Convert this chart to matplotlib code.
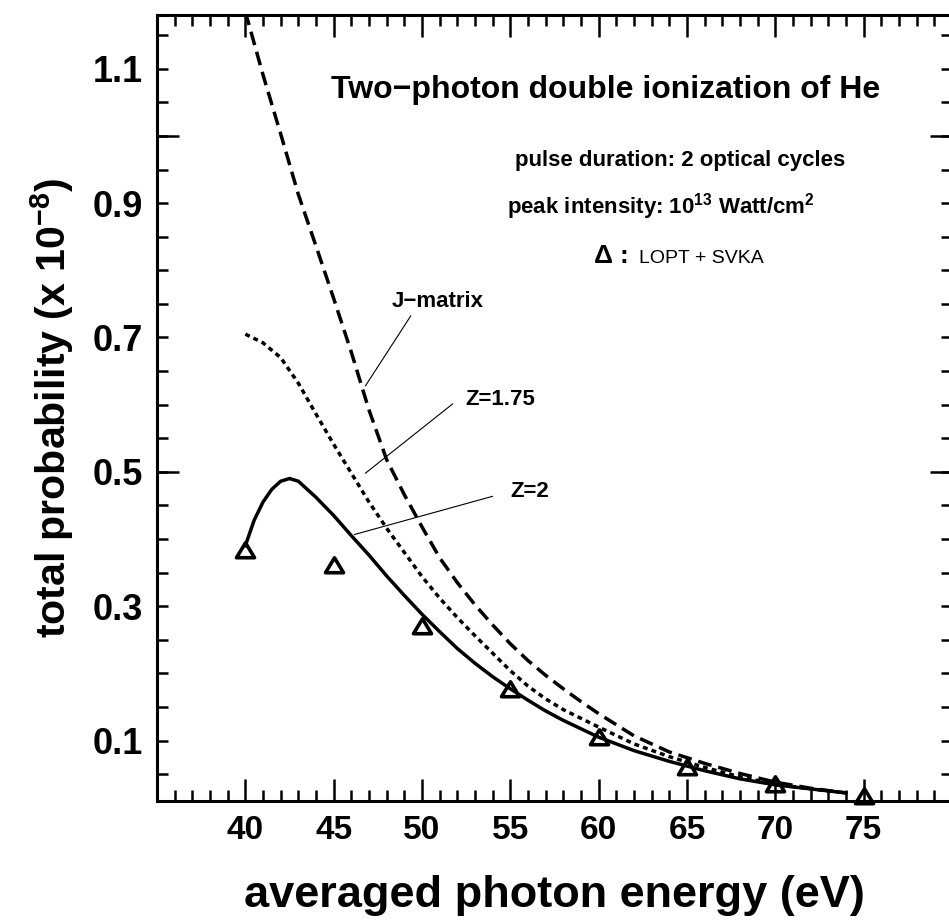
import numpy as np
import matplotlib
matplotlib.use('Agg')
import matplotlib.pyplot as plt
from matplotlib.path import Path
from matplotlib.ticker import FixedLocator, MultipleLocator, FuncFormatter

plt.rcParams['font.family'] = 'Liberation Sans'
plt.rcParams['font.weight'] = 'bold'
plt.rcParams['axes.labelweight'] = 'bold'
plt.rcParams['mathtext.default'] = 'regular'

# J-matrix result (dashed)
e_jm = [40, 41, 42, 43, 44, 45, 46, 47, 48, 49, 50, 51, 52, 53, 54, 55, 56, 57,
        58, 59, 60, 62, 64, 66, 68, 70, 72, 74]
p_jm = [1.185, 1.091, 1.003, 0.913, 0.836, 0.758, 0.678, 0.592, 0.518, 0.466,
        0.418, 0.372, 0.335, 0.302, 0.272, 0.244, 0.219, 0.197, 0.177, 0.158,
        0.140, 0.107, 0.083, 0.066, 0.051, 0.038, 0.029, 0.022]

# Z=1.75 (dotted)
e_z175 = [40, 41, 42, 43, 44, 45, 46, 47, 48, 49, 50, 51, 52, 53, 54, 55, 56,
          57, 58, 60, 62, 64, 66, 68, 70, 72, 74]
p_z175 = [0.705, 0.692, 0.670, 0.632, 0.586, 0.541, 0.498, 0.455, 0.416, 0.380,
          0.344, 0.312, 0.283, 0.256, 0.230, 0.204, 0.181, 0.162, 0.146, 0.120,
          0.095, 0.076, 0.060, 0.046, 0.035, 0.028, 0.022]

# Z=2 (solid)
e_z2 = [40, 40.5, 41, 41.5, 42, 42.5, 43, 44, 45, 46, 47, 48, 49, 50, 51, 52,
        53, 54, 55, 56, 57, 58, 60, 62, 64, 66, 68, 70, 72, 74]
p_z2 = [0.390, 0.428, 0.455, 0.474, 0.486, 0.490, 0.486, 0.462, 0.435, 0.405,
        0.376, 0.345, 0.316, 0.288, 0.262, 0.237, 0.215, 0.195, 0.177, 0.160,
        0.144, 0.130, 0.105, 0.085, 0.069, 0.055, 0.043, 0.034, 0.028, 0.022]

# LOPT + SVKA (triangles)
e_lopt = [40, 45, 50, 55, 60, 65, 70, 75]
p_lopt = [0.383, 0.362, 0.270, 0.176, 0.106, 0.061, 0.035, 0.017]

xticks = [40, 45, 50, 55, 60, 65, 70, 75]
ylabels = [0.1, 0.3, 0.5, 0.7, 0.9, 1.1]

fig = plt.figure(figsize=(9.49, 9.22), dpi=100)
ax = fig.add_axes([157 / 949, 121 / 922, (952 - 157) / 949, 786 / 922])

tri = Path([(-1, -0.8), (1, -0.8), (0, 0.85), (-1, -0.8)],
           [Path.MOVETO, Path.LINETO, Path.LINETO, Path.CLOSEPOLY])

ax.plot(e_jm, p_jm, color='k', lw=2.5, dashes=(4.0, 2.0))
ax.plot(e_z175, p_z175, color='k', lw=2.5, dashes=(1.4, 1.2))
ax.plot(e_z2, p_z2, color='k', lw=2.5)
ax.plot(e_lopt, p_lopt, ls='none', marker=tri, ms=13, mfc='none',
        mec='k', mew=2.6, clip_on=False)

ax.set_xlim(35, 80)
ax.set_ylim(0.01, 1.18)

# ticks: x long every 5, short every 1
ax.xaxis.set_major_locator(FixedLocator(xticks))
ax.xaxis.set_minor_locator(MultipleLocator(1))
ax.tick_params(axis='x', which='major', direction='in', length=16, width=1.8,
               top=True, labelsize=24, pad=10)
ax.tick_params(axis='x', which='minor', direction='in', length=8, width=1.8,
               top=True)

# y: short every 0.05 (labels on odd tenths), long at 0.5 and 1.0
yshort = np.round(np.arange(1, 24) * 0.05, 2)
ax.yaxis.set_major_locator(FixedLocator(yshort))
ax.yaxis.set_major_formatter(FuncFormatter(
    lambda v, pos: f'{v:.1f}' if any(abs(v - t) < 1e-6 for t in ylabels) else ''))
ax.yaxis.set_minor_locator(FixedLocator([0.5, 1.0]))
ax.yaxis.remove_overlapping_locs = False
ax.tick_params(axis='y', which='major', direction='in', length=8, width=1.8,
               right=True, labelsize=26, pad=10)
ax.tick_params(axis='y', which='minor', direction='in', length=16, width=1.8,
               right=True)

for s in ax.spines.values():
    s.set_linewidth(2.2)

ax.set_xlabel('averaged photon energy (eV)', fontsize=32.5, labelpad=21)
ax.set_ylabel(r'total probability (x 10$^{-8}$)', fontsize=29.5, labelpad=12)

ax.text(60.37, 1.069, 'Two\u2212photon double ionization of He', ha='center',
        va='center', fontsize=23)
ax.text(64.6, 0.955, 'pulse duration: 2 optical cycles', ha='center',
        va='baseline', fontsize=16)
ax.text(63.55, 0.885, r'peak intensity: 10$^{13}$ Watt/cm$^{2}$', ha='center',
        va='baseline', fontsize=16)
ax.text(59.74, 0.811, '\u0394', ha='left', va='baseline', fontsize=19)
ax.text(61.2, 0.811, ':', ha='left', va='baseline', fontsize=19)
ax.text(62.3, 0.811, 'LOPT + SVKA', ha='left', va='baseline', fontsize=14,
        fontweight='normal')

# curve labels with leader lines
notes = [('J\u2212matrix', (50.87, 0.745), 'center', (49.36, 0.732), (46.80, 0.628)),
         ('Z=1.75', (52.48, 0.599), 'left', (51.73, 0.601), (46.80, 0.498)),
         ('Z=2', (55.03, 0.4625), 'left', (53.99, 0.4635), (46.18, 0.4067))]
for txt, pos, ha, p0, p1 in notes:
    ax.text(pos[0], pos[1], txt, ha=ha, va='baseline', fontsize=16)
    ax.plot([p0[0], p1[0]], [p0[1], p1[1]], color='k', lw=0.8)

fig.savefig('out.png', dpi=100)
